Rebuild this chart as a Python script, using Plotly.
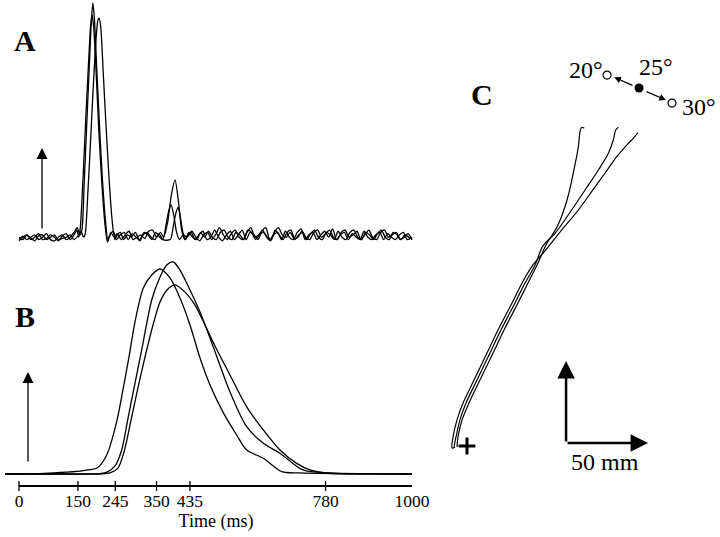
import plotly.graph_objects as go

FONT = "Liberation Serif, Times New Roman, Times, serif"

# ---------------- Panel A: EMG envelopes (time ms, amplitude a.u.) ----------------
A1 = [(0,0.01),(10,0.025),(20,0.01),(30,0.02),(40,0.03),(50,0.01),(60,0.02),(70,0.035),(80,0.01),
      (90,0.005),(100,0.02),(110,0.03),(120,0.01),(130,0.02),(140,0.04),(148,0.06),(155,0.03),
      (160,0.05),(166,0.25),(172,0.48),(178,0.70),(184,0.92),(188,1.0),(192,0.93),(198,0.72),
      (205,0.48),(212,0.27),(220,0.09),(226,0.01),(234,0.04),(242,0.02),(250,0.035),(260,0.01),
      (270,0.03),(280,0.045),(290,0.01),(300,0.02),(310,0.03),(320,0.015),(330,0.045),(340,0.05),
      (350,0.02),(360,0.04),(368,0.02),(378,0.08),(388,0.2),(397,0.26),(405,0.18),(414,0.05),
      (422,0.01),(430,0.03),(440,0.045),(450,0.02),(460,0.005),(470,0.03),(480,0.04),(490,0.01),
      (500,0.03),(510,0.06),(520,0.03),(530,0.01),(540,0.035),(550,0.05),(560,0.02),(570,0.01),
      (580,0.04),(590,0.06),(600,0.02),(610,0.03),(620,0.05),(630,0.02),(640,0.005),(650,0.04),
      (660,0.06),(670,0.03),(680,0.02),(690,0.04),(700,0.015),(710,0.02),(720,0.045),(730,0.02),
      (740,0.01),(750,0.04),(760,0.05),(770,0.02),(780,0.035),(790,0.05),(800,0.02),(810,0.01),
      (820,0.04),(830,0.05),(840,0.02),(850,0.03),(860,0.045),(870,0.01),(880,0.03),(890,0.05),
      (900,0.02),(910,0.01),(920,0.04),(930,0.05),(940,0.02),(950,0.03),(960,0.04),(970,0.01),
      (980,0.02),(990,0.035),(1000,0.01)]

A2 = [(0,0.02),(10,0.01),(20,0.03),(30,0.01),(40,0.02),(50,0.035),(60,0.01),(70,0.015),(80,0.03),
      (90,0.02),(100,0.005),(110,0.025),(120,0.035),(130,0.01),(140,0.03),(147,0.05),(152,0.02),
      (156,0.06),(163,0.27),(170,0.52),(177,0.75),(182,0.9),(186,0.95),(190,0.9),(196,0.72),
      (203,0.47),(211,0.24),(219,0.07),(225,0.0),(232,0.03),(240,0.045),(248,0.01),(258,0.03),
      (268,0.04),(278,0.01),(288,0.035),(298,0.02),(308,0.005),(318,0.04),(328,0.03),(338,0.01),
      (348,0.04),(358,0.02),(366,0.01),(374,0.07),(381,0.13),(387,0.155),(394,0.11),(401,0.04),
      (408,0.01),(418,0.03),(428,0.02),(438,0.04),(448,0.01),(458,0.03),(468,0.045),(478,0.01),
      (488,0.02),(498,0.05),(508,0.02),(518,0.005),(528,0.03),(538,0.045),(548,0.01),(558,0.03),
      (568,0.05),(578,0.01),(588,0.04),(598,0.03),(608,0.01),(618,0.045),(628,0.06),(638,0.01),
      (648,0.03),(658,0.04),(668,0.01),(678,0.045),(688,0.02),(698,0.01),(708,0.04),(718,0.055),
      (728,0.01),(738,0.03),(748,0.04),(758,0.01),(768,0.03),(778,0.045),(788,0.02),(798,0.055),
      (808,0.01),(818,0.03),(828,0.04),(838,0.01),(848,0.035),(858,0.02),(868,0.01),(878,0.045),
      (888,0.02),(898,0.01),(908,0.03),(918,0.04),(928,0.01),(938,0.035),(948,0.02),(958,0.01),
      (968,0.03),(978,0.04),(988,0.01),(1000,0.02)]

A3 = [(0,0.005),(10,0.02),(20,0.03),(30,0.015),(40,0.005),(50,0.025),(60,0.03),(70,0.01),(80,0.02),
      (90,0.03),(100,0.01),(110,0.015),(120,0.02),(130,0.03),(140,0.01),(150,0.025),(158,0.045),
      (164,0.02),(168,0.03),(175,0.2),(182,0.42),(189,0.65),(196,0.85),(201,0.93),(204,0.937),
      (208,0.9),(214,0.72),(221,0.5),(229,0.27),(237,0.09),(244,0.01),(250,0.03),(258,0.04),
      (266,0.01),(276,0.03),(286,0.02),(296,0.04),(306,0.01),(316,0.03),(326,0.04),(336,0.02),
      (346,0.01),(356,0.035),(366,0.01),(385,0.01),(392,0.06),(399,0.12),(405,0.146),(411,0.1),
      (417,0.04),(424,0.01),(432,0.04),(442,0.02),(452,0.01),(462,0.04),(472,0.02),(482,0.045),
      (492,0.02),(502,0.01),(512,0.04),(522,0.05),(532,0.02),(542,0.01),(552,0.04),(562,0.03),
      (572,0.01),(582,0.05),(592,0.04),(602,0.01),(612,0.03),(622,0.04),(632,0.02),(642,0.01),
      (652,0.05),(662,0.03),(672,0.01),(682,0.04),(692,0.05),(702,0.01),(712,0.03),(722,0.04),
      (732,0.01),(742,0.035),(752,0.05),(762,0.02),(772,0.01),(782,0.04),(792,0.03),(802,0.01),
      (812,0.045),(822,0.02),(832,0.01),(842,0.04),(852,0.05),(862,0.02),(872,0.01),(882,0.04),
      (892,0.03),(902,0.01),(912,0.035),(922,0.05),(932,0.02),(942,0.01),(952,0.04),(962,0.03),
      (972,0.01),(982,0.03),(992,0.02),(1000,0.01)]

# ---------------- Panel B: velocity profiles (time ms, normalised) ----------------
B1 = [(-35.6,0),(53.4,0.002),(104.3,0.007),(155.2,0.014),(180.7,0.021),(198.5,0.028),(223.2,0.09),
      (248.6,0.247),(265.4,0.406),(280.7,0.561),(295.2,0.718),(316.3,0.877),(337.7,0.939),
      (358.8,0.967),(384.2,0.925),(409.7,0.83),(435.1,0.703),(460.6,0.547),(486.0,0.42),
      (519.1,0.292),(553.9,0.184),(579.4,0.113),(621.6,0.074),(668.4,0.011),(715.0,0.005),
      (816.8,0.002),(1000,0)]
B2 = [(-35.6,0),(104.3,0),(206.1,0.002),(223.9,0.009),(244.3,0.038),(261.3,0.113),(278.1,0.27),
      (295.2,0.429),(312.2,0.585),(337.7,0.821),(358.8,0.929),(375.8,0.986),(392.6,1.0),
      (409.7,0.962),(435.1,0.868),(460.6,0.764),(486.0,0.642),(506.4,0.538),(536.9,0.387),
      (579.4,0.223),(621.6,0.145),(664.1,0.098),(722.6,0.019),(791.3,0.005),(1000,0)]
B3 = [(-35.6,0),(104.3,0),(206.1,0),(231.6,0.005),(251.9,0.028),(267.2,0.104),(286.8,0.27),
      (305.3,0.429),(324.9,0.585),(341.0,0.703),(358.8,0.811),(376.6,0.868),(396.9,0.892),
      (422.4,0.858),(447.8,0.797),(473.3,0.703),(498.7,0.604),(536.9,0.467),(579.4,0.317),
      (621.6,0.208),(664.1,0.113),(706.6,0.05),(740.5,0.019),(791.3,0.003),(1000,0)]

TIME_TICKS = [0, 150, 245, 350, 435, 780, 1000]
TICK_MARKS = [0, 150, 245, 350, 435, 780]

# ---------------- Panel C: hand paths (mm) ----------------
C1 = [(71.5,193.7),(69.9,194.3),(68.9,191.6),(67.9,182.5),(65.2,168.3),(61.0,150.0),(55.5,134.8),
      (48.2,122.6),(42.7,110.4),(36.0,97.0),(32.0,89.0),(22.6,70.7),(15.9,56.7),(7.9,40.2),
      (1.2,26.2),(-3.0,15.9),(-5.5,5.5),(-6.1,-0.6)]
C2 = [(92.3,194.3),(90.7,192.7),(89.2,186.6),(86.2,178.5),(80.1,168.3),(72.0,156.1),(63.8,143.9),
      (53.7,129.7),(46.3,122.0),(41.5,110.4),(34.1,97.0),(30.2,89.0),(20.7,70.7),(14.0,56.7),
      (6.1,40.2),(-0.6,26.2),(-4.3,15.9),(-6.7,5.5),(-7.9,-0.6)]
C3 = [(104.3,190.9),(103.5,190.2),(101.4,187.6),(97.4,183.5),(91.3,176.4),(84.1,166.3),(76.0,155.1),
      (67.9,143.9),(56.1,129.7),(46.3,117.5),(40.2,110.4),(32.3,97.0),(28.4,89.0),(18.9,70.7),
      (12.2,56.7),(4.3,40.2),(-2.4,26.2),(-6.1,15.9),(-8.5,5.5),(-9.1,-1.2),(-7.3,-0.6)]

TARGET_DIRS = ["20°", "25°", "30°"]
TARGET_POS = [(85.4,226.2),(104.9,218.3),(125.0,209.1)]
SCALE_MM = 50

# ---------------- layout constants (pixels of a 720x537 canvas) ----------------
W, H = 720, 537
T_PX0, T_SCALE = 19, 0.393          # px of t=0, px per ms
A_BASE, A_UNIT = 242, 239
B_BASE, B_UNIT = 474, 212
B_BOTTOM = 488
AXIS_PX = 486
C_X0, C_Y0, C_SCALE = 467, 446, 1.64

fig = go.Figure()

def add_line(points, xa, ya, width=1.2, smoothing=0.6):
    fig.add_trace(go.Scatter(
        x=[p[0] for p in points], y=[p[1] for p in points], mode="lines",
        line=dict(color="black", width=width, shape="spline", smoothing=smoothing),
        xaxis=xa, yaxis=ya, showlegend=False, hoverinfo="skip"))

for s in (A1, A2, A3):
    add_line(s, "x", "y", 1.3, 0.7)
for s in (B1, B2, B3):
    add_line(s, "x2", "y2", 1.3, 0.8)
for s in (C1, C2, C3):
    add_line(s, "x3", "y3", 1.2, 1.0)

axis_y = -(AXIS_PX - B_BASE) / B_UNIT
fig.add_trace(go.Scatter(x=[TIME_TICKS[0], TIME_TICKS[-1]], y=[axis_y, axis_y], mode="lines",
                         line=dict(color="black", width=2), xaxis="x2", yaxis="y2",
                         showlegend=False, hoverinfo="skip"))
fig.add_trace(go.Scatter(x=TICK_MARKS, y=[axis_y] * len(TICK_MARKS), mode="markers",
                         marker=dict(symbol="line-ns", size=7, line=dict(color="black", width=1.3)),
                         xaxis="x2", yaxis="y2", showlegend=False, hoverinfo="skip",
                         cliponaxis=False))

# start cross
fig.add_trace(go.Scatter(x=[0], y=[0], mode="markers",
                         marker=dict(symbol="cross-thin", size=12, line=dict(color="black", width=3)),
                         xaxis="x3", yaxis="y3", showlegend=False, hoverinfo="skip"))
# targets
fig.add_trace(go.Scatter(x=[TARGET_POS[0][0], TARGET_POS[2][0]], y=[TARGET_POS[0][1], TARGET_POS[2][1]],
                         mode="markers", marker=dict(symbol="circle-open", size=8,
                                                     color="black", line=dict(width=1.2)),
                         xaxis="x3", yaxis="y3", showlegend=False, hoverinfo="skip"))
fig.add_trace(go.Scatter(x=[TARGET_POS[1][0]], y=[TARGET_POS[1][1]], mode="markers",
                         marker=dict(symbol="circle", size=9, color="black"),
                         xaxis="x3", yaxis="y3", showlegend=False, hoverinfo="skip"))

ann = []
def letter(txt, px, py):
    ann.append(dict(text="<b>%s</b>" % txt, x=px / W, y=1 - py / H, xref="paper", yref="paper",
                    showarrow=False, xanchor="center", yanchor="middle",
                    font=dict(family=FONT, size=30, color="black")))
letter("A", 25, 40)
letter("B", 25, 316)
letter("C", 482, 95)

def arrow(xr, yr, x0, y0, x1, y1, width, size, head=2):
    ann.append(dict(text="", x=x1, y=y1, ax=x0, ay=y0, xref=xr, yref=yr, axref=xr, ayref=yr,
                    showarrow=True, arrowhead=head, arrowsize=size, arrowwidth=width,
                    arrowcolor="black", standoff=0, startstandoff=0))

# amplitude arrows
arrow("x", "y", 58.5, 0.05, 58.5, 0.393, 1.3, 1.7)
arrow("x2", "y2", 22.9, 0.052, 22.9, 0.481, 1.3, 1.7)
# scale bar
sx, sy = 60.4, 1.8
arrow("x3", "y3", sx, sy, sx, sy + SCALE_MM, 2.5, 1.4)
arrow("x3", "y3", sx, sy, sx + SCALE_MM, sy, 2.5, 1.4)
ann.append(dict(text="%d mm" % SCALE_MM, x=84.1, y=-9.8, xref="x3", yref="y3", showarrow=False,
                xanchor="center", yanchor="middle", font=dict(family=FONT, size=24, color="black")))
# direction arrows
arrow("x3", "y3", 101.8, 219.5, 89.8, 224.8, 1.2, 1.1)
arrow("x3", "y3", 108.5, 216.5, 121.3, 211.0, 1.2, 1.1)
for lab, (lx, ly) in zip(TARGET_DIRS, [(72.6, 229.3), (115.3, 231.1), (141.5, 206.7)]):
    ann.append(dict(text=lab, x=lx, y=ly, xref="x3", yref="y3", showarrow=False,
                    xanchor="center", yanchor="middle", font=dict(family=FONT, size=24, color="black")))

x_range = [-T_PX0 / T_SCALE, (432 - T_PX0) / T_SCALE]
hidden = dict(visible=False, showgrid=False, zeroline=False)

fig.update_layout(
    width=W, height=H, margin=dict(l=0, r=0, t=0, b=0),
    paper_bgcolor="white", plot_bgcolor="white", showlegend=False,
    font=dict(family=FONT, color="black"),
    xaxis=dict(hidden, domain=[0, 432 / W], range=x_range, anchor="y"),
    yaxis=dict(hidden, domain=[1 - 250 / H, 1], range=[-(250 - A_BASE) / A_UNIT, A_BASE / A_UNIT], anchor="x"),
    xaxis2=dict(domain=[0, 432 / W], range=x_range, anchor="y2", showgrid=False, zeroline=False,
                showline=False, ticks="", tickmode="array", tickvals=TIME_TICKS,
                ticktext=[str(v) for v in TIME_TICKS],
                tickfont=dict(family=FONT, size=17.5, color="black"),
                title=dict(text="Time (ms)", font=dict(family=FONT, size=18, color="black"), standoff=4)),
    yaxis2=dict(hidden, domain=[1 - B_BOTTOM / H, 1 - 250 / H],
                range=[-(B_BOTTOM - B_BASE) / B_UNIT, (B_BASE - 250) / B_UNIT], anchor="x2"),
    xaxis3=dict(hidden, domain=[440 / W, 1], range=[(440 - C_X0) / C_SCALE, (W - C_X0) / C_SCALE], anchor="y3"),
    yaxis3=dict(hidden, domain=[0, 1], range=[(C_Y0 - H) / C_SCALE, C_Y0 / C_SCALE], anchor="x3"),
    annotations=ann,
)

fig.write_html("out.html", config={"displayModeBar": False},
               post_script="document.body.style.margin='0';document.body.style.overflow='hidden';")
